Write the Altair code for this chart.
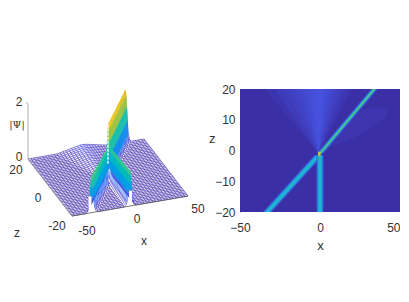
import altair as alt
import pandas as pd

FONT = "Liberation Sans"
TXT = "#333333"

# ---- values ----
row_z = [-20,-19,-18,-17,-16,-15,-14,-13,-12,-11,-10,-9,-8,-7,-6,-5,-4,-3,-2,-1,0,
         1,2,3,4,5,6,7,8,9,10,11,12,13,14,15,16,17,18,19,20]
beam1_x = [-33,-31.3,-29.6,-27.9,-26.2,-24.4,-22.7,-21,-19.3,-17.6,-15.9,-14.2,-12.5,-10.7,-9,-7.3,-5.6,-3.9,-2.2]
beam1_h = [1.3,1.3,1.29,1.29,1.28,1.28,1.27,1.27,1.26,1.25,1.25,1.24,1.23,1.22,1.21,1.2,1.19,1.17,1.15]
beam2_x = [0]*19
beam2_h = [1.25,1.25,1.25,1.24,1.24,1.24,1.23,1.23,1.23,1.22,1.22,1.21,1.21,1.2,1.2,1.19,1.18,1.17,1.15]
beam3_x = [0.5,2.2,3.9,5.6,7.2,8.9,10.6,12.3,14,15.7,17.4,19,20.7,22.4,24.1,25.8,27.5,29.2,30.9,32.5,34]
beam3_h = [1.95,1.94,1.94,1.94,1.93,1.93,1.93,1.93,1.92,1.92,1.92,1.92,1.91,1.91,1.91,1.91,1.9,1.9,1.9,1.9,1.9]
glow_h = [0.08,0.09,0.1,0.1,0.11,0.12,0.12,0.13,0.14,0.14,0.15,0.16,0.16,0.17,0.17,0.18,0.18,0.19,0.19,0.2,0.2]
glow_w = [2,3,4,5,6,7,8,9,10,11,12,13,14,15,16,17,18,19,20,21,22]
profile_off = [-5,-3.5,-2.4,-1.6,-1,-0.5,0,0.5,1,1.6,2.4,3.5,5]
profile_frac = [0,0.04,0.16,0.42,0.68,0.9,1,0.9,0.68,0.42,0.16,0.04,0]
ground_x = [-50,-45,-40,-35,-30,-25,-20,-15,-10,-5,0,5,10,15,20,25,30,35,40,45,50]
cross_x = [-50,-47.5,-45,-42.5,-40,-37.5,-35,-32.5,-30,-27.5,-25,-22.5,-20,-17.5,-15,-12.5,-10,-7.5,-5,-2.5,0,
           2.5,5,7.5,10,12.5,15,17.5,20,22.5,25,27.5,30,32.5,35,37.5,40,42.5,45,47.5,50]
sub_steps = [0.25, 0.5, 0.75]
parula = ["#3e26a8","#4750ee","#2f86f0","#1fa9d9","#1fbfb0","#55c878","#a9c340","#e8bd30","#f9fb15"]

# ---- projection of the 3-D axes box onto the panel ----
def project(x, z, psi=0.0):
    return (28 + (x + 50) / 100 * 116 + (20 - z) / 40 * 44,
            160 - (x + 50) / 100 * 20 + (20 - z) / 40 * 57 - psi * 27.5)

def beams_of(z):
    out = []
    if z <= -2:
        i = z + 20
        out += [(beam1_x[i], beam1_h[i]), (beam2_x[i], beam2_h[i])]
    elif z == -1:
        out += [(-0.5, 1.3)]
    else:
        out += [(beam3_x[z], beam3_h[z])]
    return out

def prof(d):
    for k in range(len(profile_off) - 1):
        a, b = profile_off[k], profile_off[k + 1]
        if a <= d <= b:
            t = (d - a) / (b - a)
            return profile_frac[k] * (1 - t) + profile_frac[k + 1] * t
    return 0.0

def height(x, z):
    h = 0.0
    for bx, bh in beams_of(z):
        h = max(h, bh * prof(x - bx))
    if z >= 0:
        g = glow_h[z]
        w = glow_w[z]
        if abs(x + 3) < w:
            h = max(h, g * (1 - abs(x + 3) / w))
    return h

segs = []
def profile_segs(bx, bh, z, out):
    for k in range(len(profile_off) - 1):
        a, b = bx + profile_off[k], bx + profile_off[k + 1]
        ha, hb = bh * profile_frac[k], bh * profile_frac[k + 1]
        if (ha + hb) / 2 < 0.45:
            continue
        p, q = project(a, z, ha), project(b, z, hb)
        out.append(dict(px=p[0], py=p[1], qx=q[0], qy=q[1], v=(ha + hb) / 2))

for z in reversed(row_z):
    xs = set(ground_x)
    for bx, _ in beams_of(z):
        xs |= {bx + o for o in profile_off}
    xs = sorted(v for v in xs if -50 <= v <= 50)
    for a, b in zip(xs[:-1], xs[1:]):
        ha, hb = height(a, z), height(b, z)
        p, q = project(a, z, ha), project(b, z, hb)
        segs.append(dict(px=p[0], py=p[1], qx=q[0], qy=q[1], v=(ha + hb) / 2))
    if z > -20:
        for a in cross_x:
            ha, hb = height(a, z), height(a, z - 1)
            p, q = project(a, z, ha), project(a, z - 1, hb)
            segs.append(dict(px=p[0], py=p[1], qx=q[0], qy=q[1], v=(ha + hb) / 2))
        # extra strokes between two rows, so the steep sheets look solid
        if z - 1 >= 0 or z <= -2:
            upper = beams_of(z)
            lower = beams_of(z - 1)
            for (bx0, bh0), (bx1, bh1) in zip(upper, lower):
                for s in sub_steps:
                    profile_segs(bx0 + (bx1 - bx0) * s, bh0 + (bh1 - bh0) * s, z - s, segs)
mesh = pd.DataFrame(segs)

# panel scales: image-pixel like frame of the projected box
sx = alt.Scale(domain=[8, 205], nice=False, zero=False)
sy = alt.Scale(domain=[213, 90], nice=False, zero=False)
X = alt.X("px:Q", scale=sx, axis=None)
Y = alt.Y("py:Q", scale=sy, axis=None)
X2, Y2 = alt.X2("qx"), alt.Y2("qy")

def seg_df(pairs):
    return pd.DataFrame([dict(px=a[0], py=a[1], qx=b[0], qy=b[1]) for a, b in pairs])

mesh_layer = alt.Chart(mesh).mark_rule(strokeWidth=0.65, clip=False).encode(
    x=X, y=Y, x2=X2, y2=Y2,
    color=alt.Color("v:Q", legend=None, scale=alt.Scale(domain=[0, 2.05], range=parula)),
)

box = alt.Chart(seg_df([
    (project(-50, 20), project(-50, -20)),
    (project(-50, 20), project(-50, 20, 2)),
    (project(-50, 20, 2), (project(-50, 20, 2)[0] - 2, project(-50, 20, 2)[1] - 2)),
])).mark_rule(color="#999999", strokeWidth=0.8).encode(x=X, y=Y, x2=X2, y2=Y2)
front = alt.Chart(seg_df([(project(-50, -20), project(50, -20))])).mark_rule(color="#555555", strokeWidth=0.8).encode(x=X, y=Y, x2=X2, y2=Y2)

white = alt.Chart(seg_df([
    (project(beam1_x[0] - 1.5, -20, 0), project(beam1_x[0] - 1.5, -20, 0.6)),
    (project(beam2_x[0] + 0.5, -20, 0), project(beam2_x[0] + 0.5, -20, 0.55)),
])).mark_rule(color="white", strokeWidth=3).encode(x=X, y=Y, x2=X2, y2=Y2)
seam = alt.Chart(seg_df([
    (project(0, 0, 0.5), project(0, 0, 1.95)),
])).mark_rule(color="white", strokeWidth=1.3, strokeDash=[3, 1]).encode(x=X, y=Y, x2=X2, y2=Y2)

labels = []
def put(t, x, z, psi, dx, dy):
    p = project(x, z, psi)
    labels.append(dict(t=t, px=p[0] + dx, py=p[1] + dy))
put("2", -50, 20, 2, -9, -2)
put("0", -50, 20, 0, -9, -2)
put("20", -50, 20, 0, -12, 11)
put("0", -50, 0, 0, -12, 10)
put("-20", -50, -20, 0, -15, 10)
put("z", -50, 0, 0, -33, 45)
put("-50", -50, -20, 0, 15, 15)
put("0", 0, -20, 0, 7, 13)
put("50", 50, -20, 0, 10, 13)
put("x", 0, -20, 0, 14, 35)
ax_text = alt.Chart(pd.DataFrame(labels)).mark_text(font=FONT, fontSize=12, color=TXT).encode(x=X, y=Y, text="t:N")
psi_text = alt.Chart(pd.DataFrame([dict(t="|Ψ|", px=project(-50, 20, 1.25)[0] - 11, py=project(-50, 20, 1.25)[1])])).mark_text(
    font="DejaVu Serif", fontSize=10, color=TXT).encode(x=X, y=Y, text="t:N")

left = alt.layer(mesh_layer, white, seam, box, front, ax_text, psi_text).properties(width=197, height=123)

# ---- right panel ----
xs = alt.Scale(domain=[-50, 50], nice=False)
zs = alt.Scale(domain=[-20, 20], nice=False)
axx = alt.Axis(values=[-50, 0, 50], title="x", grid=False, ticks=False, domain=False, labelFont=FONT, labelFontSize=12,
               labelColor=TXT, titleFont=FONT, titleFontSize=13, titleFontWeight="normal", titleColor=TXT, labelPadding=10, titlePadding=6,
               labelAlign=alt.expr("datum.value == 50 ? 'right' : 'center'"), labelFlush=False, labelOverlap=False)
axz = alt.Axis(values=[-20, -10, 0, 10, 20], title="z", grid=False, ticks=False, domainColor="#999999", labelFont=FONT, labelFontSize=12,
               labelColor=TXT, titleFont=FONT, titleFontSize=13, titleFontWeight="normal", titleColor=TXT, titleAngle=0, labelPadding=5, titlePadding=3,
               titleY=56, labelFlush=False, labelOverlap=False)

bg = alt.Chart(pd.DataFrame(dict(a=[-50], b=[50], c=[-20], d=[20]))).mark_rect(color="#3b2fa6").encode(
    x=alt.X("a:Q", scale=xs, axis=axx), x2="b", y=alt.Y("c:Q", scale=zs, axis=axz), y2="d")

def band(zv, xl, xr, color, op):
    d = pd.DataFrame(dict(z=zv, xl=xl, xr=xr))
    return alt.Chart(d).mark_area(color=color, opacity=op, orient="horizontal", clip=True).encode(
        y=alt.Y("z:Q", scale=zs, axis=axz), x=alt.X("xl:Q", scale=xs, axis=axx), x2="xr")

layers = [bg]
# fan above the meeting point
fan_top_l = [-34, -28, -22, -17, -13, -10, -7, -5, -3]
fan_top_r = [20, 16, 13, 10, 8, 6, 4.5, 3, 2]
for l, r in zip(fan_top_l, fan_top_r):
    layers.append(band([-1, 20], [-1, l], [-1, r], "#4a66f5", 0.13))
# faint lobe to the right
layers.append(band([0, 5, 11, 14], [2, 9, 18, 30], [2, 25, 42, 42], "#4a66f5", 0.1))
# beams: (half-width, colour, opacity), drawn wide to narrow
soft = [(2.6, "#3f55e0", 0.5), (2.0, "#2f7fe8", 0.7), (1.5, "#1f9fe0", 0.9), (1.0, "#1fb4cf", 1.0)]
b1z, b1x = [-20, -1.6], [-33, -1]
for w, c, o in soft:
    layers.append(band(b1z, [v - w * 1.15 for v in b1x], [v + w * 1.15 for v in b1x], c, o))
b2z, b2x = [-20, -1.6], [0, 0]
for w, c, o in soft:
    layers.append(band(b2z, [v - w * 0.95 for v in b2x], [v + w * 0.95 for v in b2x], c, o))
b3z, b3x = [-1, 20], [0, 34]
soft3 = [(2.2, "#3f55e0", 0.55), (1.6, "#2f85e8", 0.8), (1.0, "#22b0cc", 1.0), (0.5, "#55c878", 1.0)]
for w, c, o in soft3:
    layers.append(band(b3z, [v - w for v in b3x], [v + w for v in b3x], c, o))
# bright spot at the meeting point
layers.append(band([-1.7, -0.4], [-1.2, -1.2], [0.4, 0.4], "#c8c838", 1.0))

right = alt.layer(*layers).properties(width=160, height=123)

chart = alt.hconcat(left, right, spacing=3).properties(padding={"left": 0, "top": 75, "right": 0, "bottom": 0}, background="white").resolve_scale(
    color="independent", x="independent", y="independent"
).configure_view(stroke=None)
chart.save("out.html", embed_options={"renderer": "svg", "actions": False})
